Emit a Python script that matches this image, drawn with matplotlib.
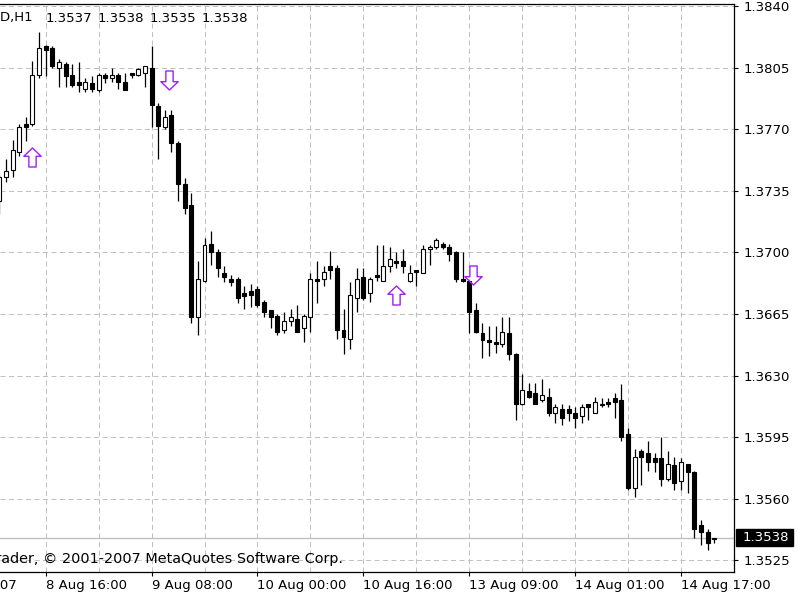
import matplotlib
matplotlib.use('Agg')
import matplotlib.pyplot as plt
import matplotlib.transforms as mtransforms
from matplotlib.patches import Rectangle
from matplotlib.path import Path
import numpy as np

plt.rcParams['font.family'] = ['DejaVu Sans']
plt.rcParams['font.size'] = 9.5

# EURUSD H1 bars (bar 0 = 8 Aug 09:00, last = 14 Aug 22:00)
opens = [1.3729, 1.3743, 1.3747, 1.3757, 1.3773, 1.3773, 1.3801, 1.3817, 1.3816, 1.3805,
         1.3807, 1.3801, 1.3797, 1.3793, 1.3796, 1.3792, 1.3801, 1.3799, 1.3801, 1.3797,
         1.3802, 1.3801, 1.3802, 1.3805, 1.3783, 1.3771, 1.3778, 1.3762, 1.3739, 1.3727,
         1.3663, 1.3684, 1.3705, 1.3700, 1.3688, 1.3685, 1.3685, 1.3677, 1.3678, 1.3679,
         1.3672, 1.3667, 1.3664, 1.3656, 1.3661, 1.3662, 1.3657, 1.3663, 1.3685, 1.3685,
         1.3692, 1.3691, 1.3656, 1.3651, 1.3674, 1.3686, 1.3677, 1.3687, 1.3684, 1.3692,
         1.3695, 1.3695, 1.3684, 1.3690, 1.3688, 1.3702, 1.3703, 1.3705, 1.3703, 1.3700,
         1.3685, 1.3684, 1.3667, 1.3654, 1.3650, 1.3649, 1.3648, 1.3654, 1.3642, 1.3614,
         1.3621, 1.3620, 1.3616, 1.3618, 1.3609, 1.3611, 1.3611, 1.3609, 1.3607, 1.3614,
         1.3609, 1.3614, 1.3615, 1.3617, 1.3616, 1.3597, 1.3566, 1.3587, 1.3586, 1.3583,
         1.3583, 1.3571, 1.3579, 1.3570, 1.3580, 1.3575, 1.3545, 1.3541, 1.3537]
highs = [1.3744, 1.3753, 1.3764, 1.3773, 1.3777, 1.3809, 1.3825, 1.3818, 1.3817, 1.3810,
         1.3808, 1.3807, 1.3808, 1.3799, 1.3800, 1.3802, 1.3802, 1.3805, 1.3802, 1.3802,
         1.3802, 1.3805, 1.3806, 1.3817, 1.3785, 1.3781, 1.3781, 1.3763, 1.3742, 1.3734,
         1.3695, 1.3708, 1.3712, 1.3702, 1.3692, 1.3687, 1.3686, 1.3681, 1.3682, 1.3681,
         1.3673, 1.3667, 1.3665, 1.3666, 1.3668, 1.3670, 1.3665, 1.3688, 1.3695, 1.3692,
         1.3701, 1.3693, 1.3668, 1.3683, 1.3691, 1.3691, 1.3686, 1.3704, 1.3704, 1.3703,
         1.3700, 1.3702, 1.3693, 1.3690, 1.3704, 1.3704, 1.3708, 1.3706, 1.3705, 1.3701,
         1.3700, 1.3684, 1.3671, 1.3660, 1.3658, 1.3658, 1.3663, 1.3663, 1.3643, 1.3631,
         1.3626, 1.3626, 1.3628, 1.3623, 1.3614, 1.3614, 1.3613, 1.3612, 1.3614, 1.3614,
         1.3618, 1.3617, 1.3617, 1.3620, 1.3625, 1.3600, 1.3588, 1.3588, 1.3593, 1.3586,
         1.3595, 1.3587, 1.3584, 1.3583, 1.3580, 1.3576, 1.3548, 1.3543, 1.3538]
lows = [1.3722, 1.3740, 1.3743, 1.3755, 1.3763, 1.3772, 1.3799, 1.3800, 1.3805, 1.3794,
        1.3794, 1.3794, 1.3791, 1.3791, 1.3791, 1.3791, 1.3796, 1.3797, 1.3793, 1.3792,
        1.3799, 1.3800, 1.3794, 1.3771, 1.3753, 1.3770, 1.3757, 1.3729, 1.3722, 1.3660,
        1.3653, 1.3683, 1.3693, 1.3686, 1.3683, 1.3681, 1.3671, 1.3668, 1.3669, 1.3669,
        1.3663, 1.3657, 1.3653, 1.3654, 1.3658, 1.3655, 1.3649, 1.3655, 1.3671, 1.3681,
        1.3685, 1.3651, 1.3642, 1.3645, 1.3666, 1.3673, 1.3672, 1.3684, 1.3684, 1.3689,
        1.3691, 1.3688, 1.3683, 1.3681, 1.3688, 1.3693, 1.3702, 1.3702, 1.3695, 1.3683,
        1.3683, 1.3654, 1.3654, 1.3640, 1.3641, 1.3643, 1.3646, 1.3639, 1.3605, 1.3613,
        1.3617, 1.3614, 1.3615, 1.3607, 1.3603, 1.3602, 1.3604, 1.3600, 1.3603, 1.3605,
        1.3609, 1.3612, 1.3612, 1.3606, 1.3593, 1.3565, 1.3561, 1.3568, 1.3576, 1.3575,
        1.3567, 1.3570, 1.3565, 1.3565, 1.3563, 1.3538, 1.3534, 1.3531, 1.3535]
closes = [1.3743, 1.3746, 1.3758, 1.3771, 1.3771, 1.3801, 1.3816, 1.3815, 1.3806, 1.3808,
          1.3800, 1.3795, 1.3795, 1.3797, 1.3793, 1.3801, 1.3799, 1.3801, 1.3797, 1.3792,
          1.3801, 1.3804, 1.3806, 1.3784, 1.3772, 1.3777, 1.3762, 1.3739, 1.3725, 1.3663,
          1.3685, 1.3704, 1.3700, 1.3691, 1.3686, 1.3683, 1.3674, 1.3675, 1.3676, 1.3670,
          1.3666, 1.3663, 1.3655, 1.3661, 1.3663, 1.3655, 1.3664, 1.3685, 1.3684, 1.3689,
          1.3690, 1.3656, 1.3652, 1.3676, 1.3685, 1.3674, 1.3685, 1.3686, 1.3692, 1.3696,
          1.3694, 1.3692, 1.3688, 1.3689, 1.3702, 1.3703, 1.3707, 1.3703, 1.3699, 1.3685,
          1.3684, 1.3666, 1.3655, 1.3650, 1.3649, 1.3648, 1.3655, 1.3642, 1.3614, 1.3622,
          1.3618, 1.3614, 1.3619, 1.3609, 1.3612, 1.3606, 1.3609, 1.3606, 1.3612, 1.3612,
          1.3615, 1.3613, 1.3614, 1.3615, 1.3595, 1.3566, 1.3584, 1.3584, 1.3581, 1.3581,
          1.3571, 1.3580, 1.3569, 1.3581, 1.3575, 1.3543, 1.3541, 1.3535, 1.3538]

tick_bars = [7, 23, 39, 55, 71, 87, 103]
tick_labels = ['8 Aug 16:00', '9 Aug 08:00', '10 Aug 00:00', '10 Aug 16:00',
               '13 Aug 09:00', '14 Aug 01:00', '14 Aug 17:00']
first_bar, first_label = -9, '8 Aug 2007'
price_ticks = [1.3525, 1.3560, 1.3595, 1.3630, 1.3665, 1.3700, 1.3735, 1.3770, 1.3805, 1.3840]

# signal arrows
buy_bars = [5, 60]
buy_prices = [1.3754, 1.3676]
sell_bars = [25, 71]
sell_prices = [1.3798, 1.3687]

symbol = 'EURUSD,H1'
copyright_txt = 'MetaTrader, \u00a9 2001-2007 MetaQuotes Software Corp.'

o = np.array(opens)
h = np.array(highs)
l = np.array(lows)
c = np.array(closes)
x = np.arange(len(o))

fig = plt.figure(figsize=(8, 6), dpi=100)
ax = fig.add_axes([0, 28 / 600, 734 / 800, 568 / 600])

grid_style = dict(color='#c0c0c0', linestyle=(0, (5, 3.5)), linewidth=0.72)

# candles
ax.vlines(x, l, h, color='black', linewidth=0.9, zorder=3)
bull = c >= o
face = np.where(bull, 'white', 'black')
ax.bar(x, np.abs(c - o), bottom=np.minimum(o, c), width=0.6, color=face,
       edgecolor='black', linewidth=0.8, zorder=4)

# current price line
ax.axhline(c[-1], color='#c0c0c0', linewidth=1.0, zorder=2)

# arrows
up_v = [(0, 0.55), (0.5, 0.07), (0.21, 0.07), (0.21, -0.55), (-0.21, -0.55),
        (-0.21, 0.07), (-0.5, 0.07), (0, 0.55)]
codes = [Path.MOVETO] + [Path.LINETO] * 6 + [Path.CLOSEPOLY]
up_arrow = Path(up_v, codes)
dn_arrow = Path([(px, -py) for px, py in up_v], codes)
arrow_col = '#a020f0'
ax.plot(buy_bars, buy_prices, linestyle='none', marker=up_arrow, markersize=13.7,
        markerfacecolor='none', markeredgecolor=arrow_col, markeredgewidth=1.0, zorder=6)
ax.plot(np.array(sell_bars) + 0.6, sell_prices, linestyle='none', marker=dn_arrow,
        markersize=13.7, markerfacecolor='none', markeredgecolor=arrow_col,
        markeredgewidth=1.0, zorder=6)

ax.set_xlim(0.1, 110.2)
ax.set_ylim(1.35184, 1.38411)

ax.set_xticks(tick_bars)
ax.set_xticklabels(tick_labels, ha='left')
ax.set_xticks([b + 8 for b in tick_bars], minor=True)
ax.tick_params(axis='x', which='minor', length=0)
ax.tick_params(axis='x', which='major', direction='out', length=3, width=0.8, pad=2)
ax.grid(True, axis='x', which='both', **grid_style)

ax.yaxis.tick_right()
ax.set_yticks(price_ticks)
ax.set_yticklabels(['%.4f' % p for p in price_ticks])
ax.tick_params(axis='y', direction='out', length=3, width=0.8, pad=4)
ax.grid(True, axis='y', which='major', **grid_style)
ax.set_axisbelow(True)

for side in ['top', 'right', 'bottom']:
    ax.spines[side].set_linewidth(0.9)
ax.spines['left'].set_visible(False)

# first date label, mostly off screen on the left
blend = mtransforms.blended_transform_factory(ax.transData, ax.transAxes)
lbl = ax.text(first_bar, 0, first_label, ha='left', va='top', clip_on=False)
lbl.set_transform(blend + mtransforms.ScaledTranslation(0, -5 / 72, fig.dpi_scale_trans))

# current price box on the right scale
pblend = mtransforms.blended_transform_factory(ax.transAxes, ax.transData)
ax.add_patch(Rectangle((1.003, c[-1] - 0.00048), 0.078, 0.00096, transform=pblend,
                       facecolor='black', edgecolor='black', clip_on=False, zorder=7))
ax.text(1.0115, c[-1], '%.4f' % c[-1], transform=pblend, ha='left', va='center',
        color='white', clip_on=False, zorder=8)

# header: symbol and last bar O H L C
fig.text(33.5 / 800, 1 - 18 / 600, symbol, ha='right', va='center')
for px, val in zip([46, 98, 150, 202], [o[-1], h[-1], l[-1], c[-1]]):
    fig.text(px / 800, 1 - 18 / 600, '%.4f' % val, ha='left', va='center')

fig.text(343 / 800, 1 - 559 / 600, copyright_txt, ha='right', va='center', fontsize=10.4)

fig.savefig('out.png', dpi=100, facecolor='white')
